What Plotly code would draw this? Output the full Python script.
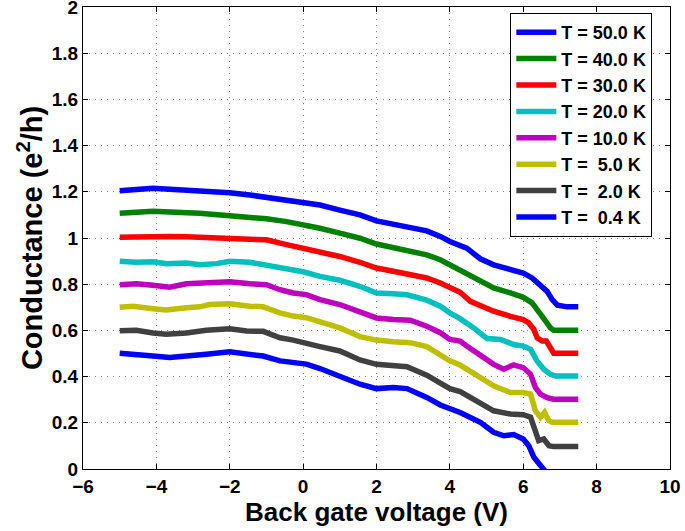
import plotly.graph_objects as go

labels = ["T = 50.0 K", "T = 40.0 K", "T = 30.0 K", "T = 20.0 K",
          "T = 10.0 K", "T = \u00a05.0 K", "T = \u00a02.0 K", "T = \u00a00.4 K"]
colors = ["#0000FF", "#008000", "#FF0000", "#00BFBF",
          "#BF00BF", "#BFBF00", "#404040", "#0000FF"]

x_50K = [-5.0, -4.55, -4.09, -3.64, -3.18, -2.82, -2.36, -2.0, -1.45, -1.0, -0.45, 0.0, 0.46, 1.0, 1.55, 2.0,
         2.46, 3.0, 3.37, 3.74, 4.0, 4.46, 4.83, 5.195, 5.65, 6.0, 6.24, 6.47, 6.65, 6.79, 6.93, 7.2, 7.5]
y_50K = [1.205, 1.208, 1.215, 1.211, 1.208, 1.201, 1.199, 1.196, 1.186, 1.176, 1.167, 1.158, 1.143, 1.121, 1.1,
         1.074, 1.059, 1.042, 1.031, 1.007, 0.985, 0.956, 0.91, 0.884, 0.867, 0.848, 0.827, 0.798, 0.769, 0.733,
         0.709, 0.702, 0.702]

x_40K = [-5.0, -4.55, -4.09, -3.64, -3.18, -2.82, -2.0, -1.45, -1.0, -0.45, 0.0, 0.46, 1.0, 1.55, 2.0, 2.46,
         3.0, 3.37, 3.74, 4.0, 4.46, 4.83, 5.195, 5.65, 6.0, 6.24, 6.42, 6.61, 6.74, 6.83, 7.5]
y_40K = [1.107, 1.11, 1.116, 1.113, 1.11, 1.107, 1.096, 1.09, 1.083, 1.071, 1.058, 1.042, 1.021, 0.999, 0.974,
         0.96, 0.942, 0.927, 0.906, 0.884, 0.849, 0.814, 0.784, 0.762, 0.743, 0.719, 0.676, 0.64, 0.611, 0.601,
         0.601]

x_30K = [-5.0, -4.55, -4.09, -3.64, -3.18, -2.82, -2.36, -2.0, -1.45, -1.0, -0.45, 0.0, 0.46, 1.0, 1.55, 2.0,
         2.46, 3.0, 3.37, 3.74, 4.0, 4.28, 4.56, 4.83, 5.195, 5.65, 6.0, 6.15, 6.29, 6.38, 6.52, 6.63, 6.74,
         6.83, 7.5]
y_30K = [1.0035, 1.006, 1.005, 1.006, 1.005, 1.0035, 1.002, 1.002, 0.999, 0.992, 0.971, 0.956, 0.942, 0.92,
         0.895, 0.87, 0.856, 0.842, 0.827, 0.805, 0.784, 0.765, 0.726, 0.705, 0.683, 0.661, 0.647, 0.633, 0.604,
         0.568, 0.554, 0.554, 0.518, 0.501, 0.501]

x_20K = [-5.0, -4.55, -4.09, -3.73, -3.18, -2.82, -2.36, -2.0, -1.45, -1.0, -0.45, 0.0, 0.46, 1.0, 1.55, 2.0,
         2.46, 2.83, 3.37, 3.74, 4.0, 4.28, 4.65, 5.01, 5.38, 5.74, 6.0, 6.2, 6.38, 6.56, 6.74, 6.88, 7.5]
y_20K = [0.899, 0.895, 0.897, 0.889, 0.892, 0.884, 0.889, 0.899, 0.895, 0.884, 0.870, 0.854, 0.834, 0.817,
         0.791, 0.762, 0.759, 0.754, 0.731, 0.705, 0.676, 0.651, 0.611, 0.565, 0.561, 0.539, 0.532, 0.518,
         0.467, 0.432, 0.41, 0.403, 0.403]

x_10K = [-5.0, -4.55, -4.09, -3.64, -3.18, -2.64, -2.0, -1.45, -1.0, -0.63, -0.27, 0.09, 0.46, 1.0, 1.55, 2.0,
         2.46, 2.92, 3.37, 3.74, 4.0, 4.28, 4.46, 4.83, 5.195, 5.47, 5.74, 6.0, 6.2, 6.33, 6.47, 6.65, 6.83, 7.5]
y_10K = [0.798, 0.802, 0.795, 0.787, 0.802, 0.805, 0.811, 0.802, 0.798, 0.776, 0.762, 0.755, 0.733, 0.712,
         0.679, 0.654, 0.647, 0.644, 0.618, 0.59, 0.561, 0.554, 0.532, 0.493, 0.453, 0.432, 0.451, 0.439, 0.41,
         0.353, 0.324, 0.309, 0.302, 0.302]

x_5K = [-5.0, -4.64, -4.09, -3.73, -3.18, -2.82, -2.55, -2.0, -1.45, -1.09, -0.63, -0.27, 0.09, 0.46, 1.0,
        1.55, 2.0, 2.46, 2.92, 3.37, 3.74, 4.0, 4.28, 4.83, 5.195, 5.65, 6.0, 6.2, 6.33, 6.47, 6.58, 6.70, 6.79,
        7.5]
y_5K = [0.700, 0.705, 0.694, 0.688, 0.698, 0.702, 0.712, 0.715, 0.705, 0.702, 0.676, 0.662, 0.655, 0.635,
        0.611, 0.573, 0.558, 0.551, 0.547, 0.530, 0.496, 0.468, 0.45, 0.40, 0.36, 0.331, 0.331, 0.324, 0.252,
        0.224, 0.245, 0.209, 0.202, 0.202]

x_2K = [-5.0, -4.55, -4.09, -3.73, -3.18, -2.64, -2.0, -1.54, -1.09, -0.63, -0.27, 0.09, 0.46, 1.0, 1.55, 2.0,
        2.46, 2.83, 3.37, 3.74, 4.0, 4.28, 4.83, 5.195, 5.65, 6.0, 6.2, 6.33, 6.42, 6.56, 6.70, 6.83, 7.5]
y_2K = [0.598, 0.601, 0.589, 0.583, 0.589, 0.601, 0.607, 0.597, 0.596, 0.568, 0.558, 0.547, 0.530, 0.511,
        0.472, 0.453, 0.449, 0.443, 0.406, 0.374, 0.348, 0.335, 0.288, 0.252, 0.238, 0.235, 0.224, 0.167, 0.123,
        0.130, 0.101, 0.097, 0.097]

x_04K = [-5.0, -4.55, -4.09, -3.64, -3.18, -2.64, -2.0, -1.54, -1.09, -0.63, -0.27, 0.09, 0.46, 1.0, 1.55,
         2.0, 2.46, 2.83, 3.37, 3.74, 4.0, 4.28, 4.83, 5.195, 5.47, 5.74, 6.0, 6.15, 6.29, 6.42, 6.56, 6.65]
y_04K = [0.501, 0.497, 0.489, 0.483, 0.487, 0.497, 0.507, 0.497, 0.489, 0.468, 0.461, 0.454, 0.435, 0.403,
         0.367, 0.348, 0.353, 0.348, 0.310, 0.277, 0.26, 0.245, 0.202, 0.159, 0.144, 0.149, 0.130, 0.101, 0.051,
         0.022, 0.0, -0.02]

xs = [x_50K, x_40K, x_30K, x_20K, x_10K, x_5K, x_2K, x_04K]
ys = [y_50K, y_40K, y_30K, y_20K, y_10K, y_5K, y_2K, y_04K]

x_ticks = [-6, -4, -2, 0, 2, 4, 6, 8, 10]
y_ticks = [0, 0.2, 0.4, 0.6, 0.8, 1, 1.2, 1.4, 1.6, 1.8, 2]

FONT = "Liberation Sans, Arial, Helvetica, sans-serif"

fig = go.Figure()
for i in range(len(labels)):
    fig.add_trace(go.Scatter(
        x=xs[i], y=ys[i], mode="lines", name=labels[i],
        line=dict(color=colors[i], width=5.5),
    ))

axis_common = dict(
    showline=True, linecolor="black", linewidth=1, mirror="ticks",
    ticks="inside", ticklen=5, tickcolor="black",
    showgrid=True, gridcolor="#808080", griddash="1px,5px", gridwidth=1,
    zeroline=False, automargin=False, ticklabeloverflow="allow",
    tickfont=dict(family=FONT, size=19, color="black", weight="bold"),
)

fig.update_xaxes(range=[-6, 10], tickvals=x_ticks, **axis_common,
                 title=dict(text="Back gate voltage (V)", standoff=4,
                            font=dict(family=FONT, size=26, color="black", weight="bold")))
fig.update_yaxes(range=[0, 2], tickvals=y_ticks, **axis_common,
                 title=dict(text="Conductance (e<sup>2</sup>/h)", standoff=0,
                            font=dict(family=FONT, size=29, color="black", weight="bold")))

fig.update_layout(
    width=685, height=531,
    margin=dict(l=83, r=15, t=7, b=62),
    plot_bgcolor="white", paper_bgcolor="white",
    showlegend=True,
    legend=dict(
        x=0.728, y=0.987, xanchor="left", yanchor="top",
        bgcolor="white", bordercolor="black", borderwidth=1,
        font=dict(family=FONT, size=18, color="black", weight="bold"),
        traceorder="normal", itemwidth=40,
    ),
)

fig.write_html("out.html", config={"displayModeBar": False},
               post_script="document.body.style.margin='0';document.body.style.padding='0';")
